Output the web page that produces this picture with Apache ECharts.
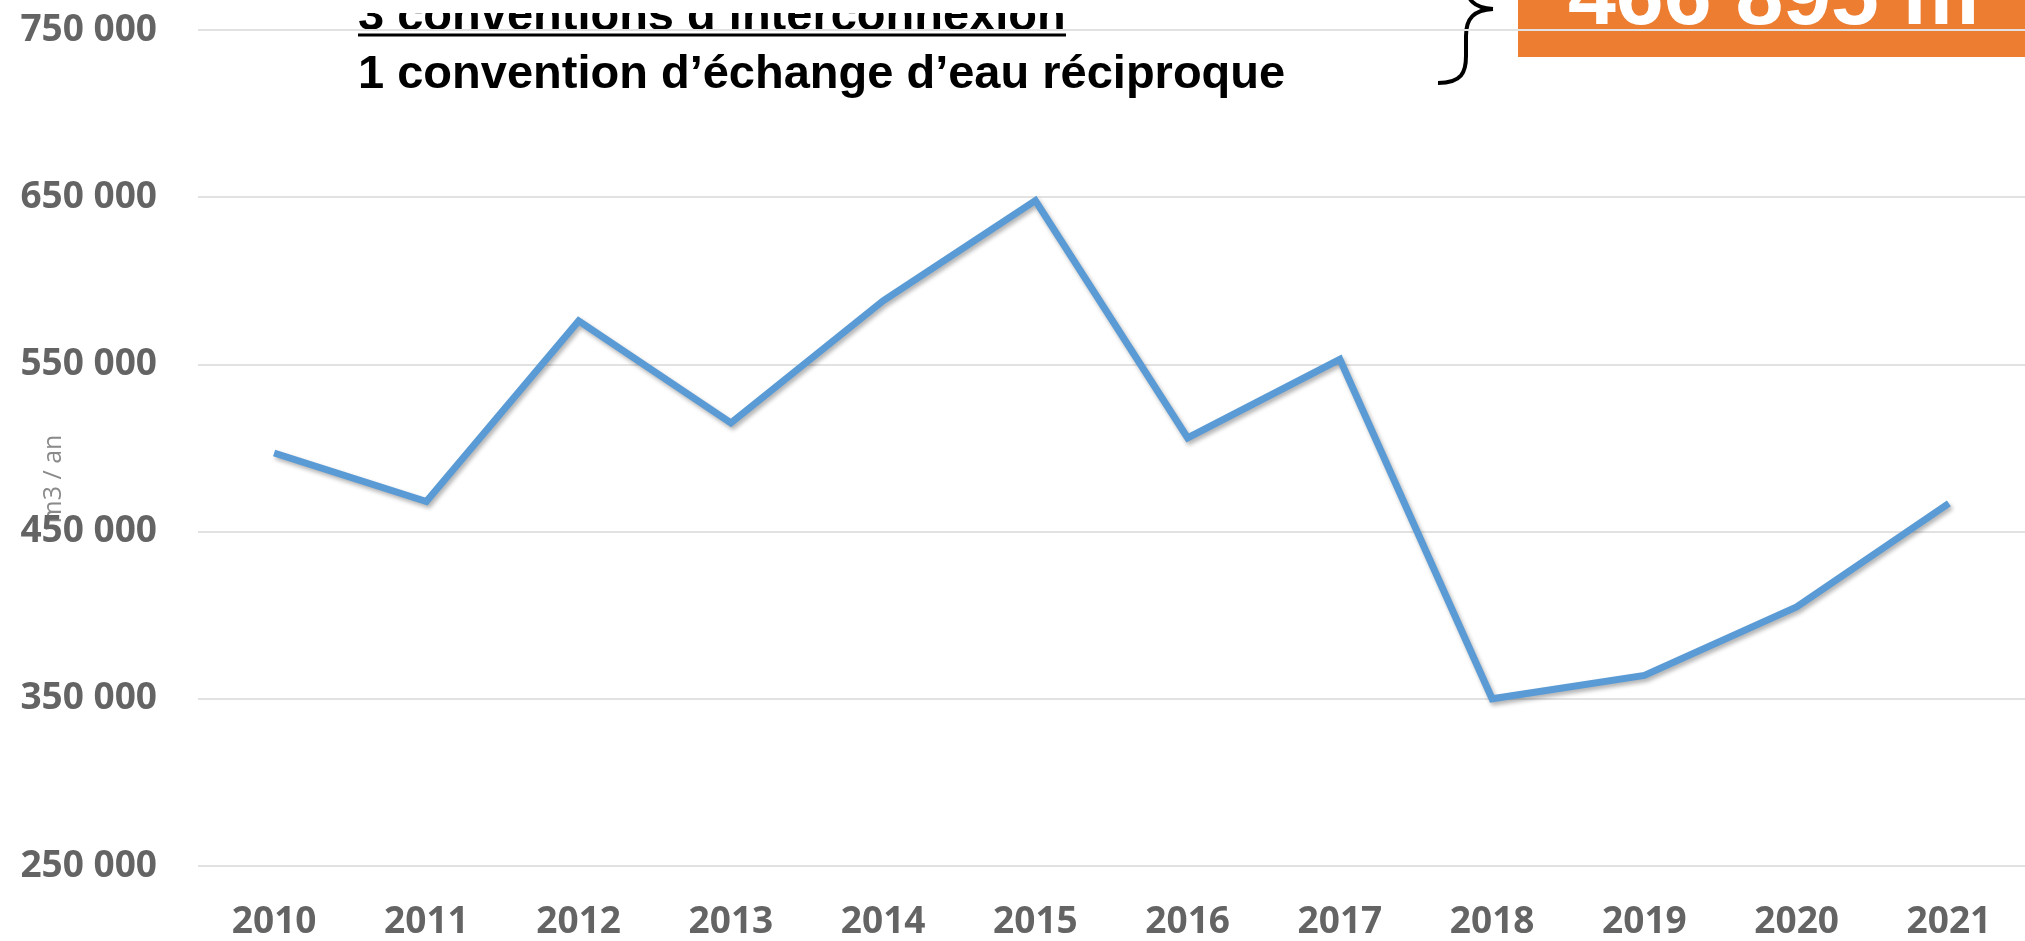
<!DOCTYPE html>
<html>
<head>
<meta charset="utf-8">
<script src="https://cdn.jsdelivr.net/npm/echarts@6/dist/echarts.min.js"></script>
<style>
  html, body { margin: 0; padding: 0; background: #fff; }
  #chart { width: 2025px; height: 941px; }
</style>
</head>
<body>
<div id="chart"></div>
<script>
// data
var years = ["2010", "2011", "2012", "2013", "2014", "2015", "2016", "2017", "2018", "2019", "2020", "2021"];
var volumes = [497000, 468000, 576000, 515000, 588000, 648000, 506000, 553000, 350000, 364000, 405000, 466895];
var yTicks = [250000, 350000, 450000, 550000, 650000, 750000];
var noteLines = ["3 conventions d’interconnexion", "1 convention d’échange d’eau réciproque"];
var totalLabel = "466 895 m³";
var unitLabel = "m3 / an";

var myChart = echarts.init(document.getElementById("chart"));

// "750 000" style
var fmt = function (v) {
  return String(v).replace(/\B(?=(\d{3})+(?!\d))/g, " ");
};

var labelFont = "'Open Sans', sans-serif";
var noteFont = "'Liberation Sans', Arial, sans-serif";
var braceStyle = { fill: "none", stroke: "#000", lineWidth: 4 };

var option = {
  animation: false,
  grid: { left: 198, top: 30, width: 1844, bottom: 74, containLabel: false },
  xAxis: {
    type: "category",
    data: years,
    boundaryGap: true,
    axisLine: { show: false },
    axisTick: { show: false },
    axisLabel: {
      margin: 38,
      color: "#646464",
      fontFamily: labelFont,
      fontWeight: "bold",
      fontSize: 37,
    },
  },
  yAxis: {
    type: "value",
    min: yTicks[0],
    max: yTicks[yTicks.length - 1],
    interval: 100000,
    axisLine: { show: false },
    axisTick: { show: false },
    axisLabel: {
      margin: 41,
      color: "#646464",
      fontFamily: labelFont,
      fontWeight: "bold",
      fontSize: 37,
      formatter: fmt,
    },
    splitLine: { lineStyle: { color: "#e2e2e2", width: 2 } },
  },
  series: [
    {
      type: "line",
      data: volumes,
      symbol: "none",
      z: 5,
      lineStyle: {
        color: "#5b9bd5",
        width: 7,
        join: "miter",
        shadowColor: "rgba(0,0,0,0.3)",
        shadowBlur: 4,
        shadowOffsetX: 2,
        shadowOffsetY: 3,
      },
    },
  ],
  graphic: [
    // orange total box, under the gridlines
    {
      type: "rect",
      z: -1,
      shape: { x: 1518, y: 0, width: 510, height: 57 },
      style: { fill: "#ed7d31" },
    },
    {
      type: "text",
      z: -1,
      x: 1568,
      y: 0,
      style: {
        text: totalLabel,
        fill: "#fff",
        font: "bold 86px " + noteFont,
        verticalAlign: "middle",
      },
    },
    // brace
    {
      type: "bezierCurve",
      shape: { x1: 1438, y1: 83, cpx1: 1462, cpy1: 83, cpx2: 1466, cpy2: 72, x2: 1466, y2: 56 },
      style: braceStyle,
    },
    {
      type: "line",
      shape: { x1: 1466, y1: 56, x2: 1466, y2: 36 },
      style: braceStyle,
    },
    {
      type: "bezierCurve",
      shape: { x1: 1466, y1: 36, cpx1: 1466, cpy1: 18, cpx2: 1474, cpy2: 10, x2: 1493, y2: 9 },
      style: braceStyle,
    },
    {
      type: "bezierCurve",
      shape: { x1: 1493, y1: 9, cpx1: 1474, cpy1: 8, cpx2: 1466, cpy2: 0, x2: 1466, y2: -18 },
      style: braceStyle,
    },
    // notes
    {
      type: "text",
      x: 358,
      y: 17,
      style: {
        text: noteLines[0],
        fill: "#000",
        font: "bold 47px " + noteFont,
        verticalAlign: "middle",
      },
    },
    {
      type: "rect",
      shape: { x: 350, y: 0, width: 760, height: 13 },
      style: { fill: "#fff" },
    },
    {
      type: "line",
      shape: { x1: 358, y1: 35, x2: 1066, y2: 35 },
      style: { stroke: "#000", lineWidth: 3 },
    },
    {
      type: "text",
      x: 358,
      y: 75,
      style: {
        text: noteLines[1],
        fill: "#000",
        font: "bold 47px " + noteFont,
        verticalAlign: "middle",
      },
    },
    // axis unit
    {
      type: "text",
      x: 54,
      y: 479,
      rotation: Math.PI / 2,
      style: {
        text: unitLabel,
        fill: "#8a8a8a",
        font: "25px " + labelFont,
        align: "center",
        verticalAlign: "middle",
      },
    },
  ],
};

myChart.setOption(option);
</script>
</body>
</html>
